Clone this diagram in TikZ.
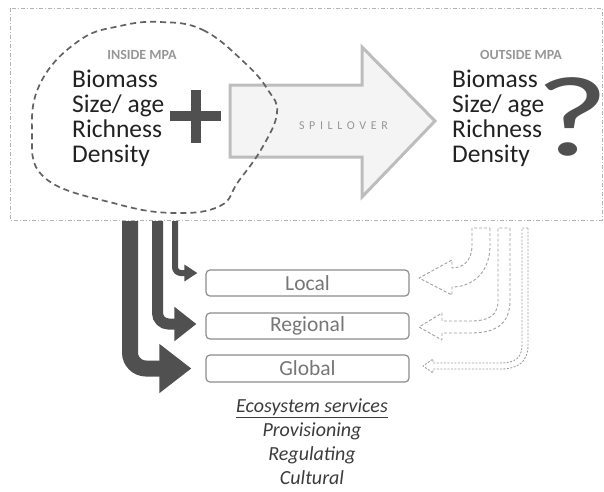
\documentclass[tikz,border=0pt]{standalone}
\usepackage{fontspec}
\setmainfont{Carlito}
\usetikzlibrary{arrows.meta}
\definecolor{darkarr}{HTML}{505050}
\definecolor{frameline}{HTML}{B4B4B4}
\definecolor{blobline}{HTML}{626262}
\definecolor{spillfill}{HTML}{F4F4F4}
\definecolor{spillline}{HTML}{BDBDBD}
\definecolor{boxline}{HTML}{8C8C8C}
\definecolor{boxtext}{HTML}{767676}
\definecolor{hollowline}{HTML}{A0A0A0}
\definecolor{captext}{HTML}{969696}
\definecolor{maintext}{HTML}{222222}
\definecolor{servtext}{HTML}{3C3C3C}
\newcommand{\lsp}{\kern4.6pt}

\begin{document}
\begin{tikzpicture}[x=1pt,y=-1pt,
   frame/.style={draw=frameline,line width=0.8pt,
      dash pattern=on 4pt off 2pt on 1pt off 2pt},
   blob/.style={draw=blobline,line width=1.7pt,dash pattern=on 6pt off 4pt},
   mpalabel/.style={font=\bfseries\fontsize{14}{16}\selectfont,text=captext,inner sep=0pt},
   measures/.style={font=\fontsize{25.5}{25}\selectfont,align=left,text=maintext,inner sep=0pt},
   servicebox/.style={draw=boxline,line width=1.2pt,rounded corners=4pt,
      minimum width=203pt,minimum height=26pt,inner sep=0pt,
      text=boxtext,font=\fontsize{21.5}{24}\selectfont},
   flow/.style={draw=darkarr,line cap=butt},
   hollow/.style={draw=hollowline,line width=0.9pt,dash pattern=on 3pt off 2pt,
      line join=round}]
   % \draw[help lines,step=20] (0,0) grid (604,491);
   \useasboundingbox (0,0) rectangle (604,491);
   \draw[frame] (10,8) rectangle (602,220);
   % spillover arrow
   \draw[fill=spillfill,draw=spillline,line width=3pt,line join=miter]
      (230,85) -- (362,85) -- (362,47) -- (435,121) -- (362,197)
      -- (362,157) -- (230,157) -- cycle;
   \node[font=\fontsize{12}{14}\selectfont,text=captext] (spill) at (343.5,126)
      {S\lsp P\lsp I\lsp L\lsp L\lsp O\lsp V\lsp E\lsp R};
   % inside the MPA
   \draw[blob] plot[smooth cycle,tension=0.7] coordinates {(160,22) (203,30)
      (245,63) (268,90) (277,113) (262,148) (238,182) (220,206) (175,213)
      (117,204) (45,178) (32,130) (42,80) (80,40) (120,26)};
   \node[mpalabel] (inside) at (142,55) {INSIDE MPA};
   \node[measures,anchor=base west] (insidelist) at (72,162)
      {Biomass\\Size/ age\\Richness\\Density};
   \draw[darkarr,line width=10pt] (170,116) -- (221,116);
   \draw[darkarr,line width=10pt] (196,90) -- (196,143);
   % outside the MPA
   \node[mpalabel] (outside) at (521,55) {OUTSIDE MPA};
   \node[measures,anchor=base west] (outsidelist) at (452,162)
      {Biomass\\Size/ age\\Richness\\Density};
   \node[font=\fontsize{114}{116}\selectfont,text=darkarr,inner sep=0pt,
      anchor=base] (unknown) at (572,155) {\scalebox{1.4}[1]{?}};
   % scales
   \node[servicebox] (local) at (307.5,283) {Local};
   \node[servicebox] (regional) at (307.5,326) {Regional};
   \node[servicebox,minimum height=27pt] (global) at (307.5,368.5) {Global};
   \coordinate (lsrc) at (175,221);
   \coordinate (rsrc) at (157.5,221);
   \coordinate (gsrc) at (130,221);
   \draw[flow,line width=16pt,rounded corners=16pt,
      -{Triangle[length=32pt,width=47pt]}] (gsrc) |- ([xshift=-14pt]global.west);
   \draw[flow,line width=11pt,rounded corners=11pt,
      -{Triangle[length=22pt,width=33pt]}] (rsrc) |- ([xshift=-9pt,yshift=2pt]regional.west);
   \draw[flow,line width=6pt,rounded corners=6pt,
      -{Triangle[length=13pt,width=16pt]}] (lsrc) |- ([xshift=-8pt,yshift=10pt]local.west);
   % spillover effects (dashed)
   \draw[hollow] (490,228) -- (490,245) .. controls (490,275) and (470,287) .. (452,287)
      -- (452,295) -- (419,278) -- (452,260) -- (452,268)
      .. controls (462,268) and (472,262) .. (472,245) -- (472,228) -- cycle;
   \draw[hollow] (510,228) -- (510,300) .. controls (510,325) and (495,333) .. (470,333)
      -- (442,333) -- (442,340) -- (419,327) -- (442,313) -- (442,321) -- (470,321)
      .. controls (490,321) and (498,315) .. (498,300) -- (498,228) -- cycle;
   \draw[hollow,dash pattern=on 2pt off 1.5pt] (528,228) -- (528,345)
      .. controls (528,362) and (518,369) .. (500,369)
      -- (433,369) -- (433,373) -- (423,366) -- (433,359) -- (433,363) -- (500,363)
      .. controls (515,363) and (522,358) .. (522,345) -- (522,228) -- cycle;
   % services
   \node[font=\itshape\fontsize{20}{23.7}\selectfont,align=center,text=servtext,
      inner sep=0pt,anchor=base] (services) at (312,484)
      {\underline{Ecosystem services}\\Provisioning\\Regulating\\Cultural};
\end{tikzpicture}
\end{document}
